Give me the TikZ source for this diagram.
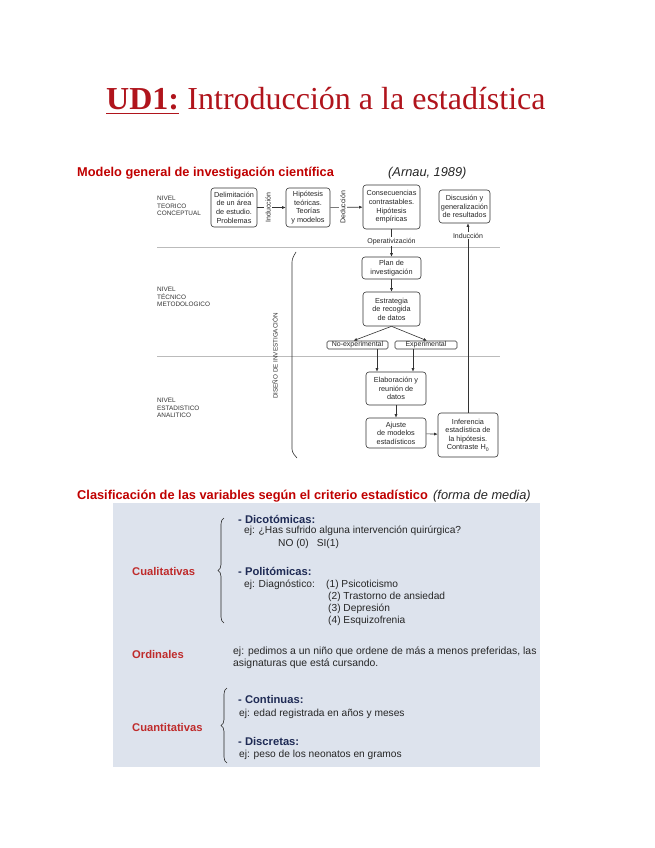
\documentclass[tikz,border=0pt]{standalone}
\usepackage{fontspec}
\setmainfont{Liberation Sans}
\newfontfamily\titleserif{Liberation Serif}
\usetikzlibrary{arrows.meta,decorations.pathreplacing,calc}
\definecolor{titlered}{HTML}{B0141C}
\definecolor{headred}{HTML}{C00000}
\definecolor{catred}{HTML}{BF2B2B}
\definecolor{navy}{HTML}{1F2B55}
\definecolor{boxbg}{HTML}{DDE3ED}
\definecolor{flowline}{HTML}{333333}
\definecolor{levelline}{HTML}{BBBBBB}
\begin{document}
\begin{tikzpicture}[x=1pt,y=1pt,
 fbox/.style={draw=flowline, line width=0.6pt, rounded corners=3pt, align=center, inner sep=0pt, font=\fontsize{7.3}{8.6}\selectfont, text=black!85},
 smallbox/.style={draw=flowline, line width=0.6pt, rounded corners=1.5pt, inner sep=0pt, minimum height=8pt, font=\fontsize{7}{7}\selectfont, text=black!85},
 arr/.style={-{Latex[length=3.5pt,width=3pt]}, line width=0.6pt, draw=flowline},
 plainline/.style={line width=0.6pt, draw=flowline},
 vlab/.style={rotate=90, fill=white, inner sep=1pt, font=\fontsize{7}{7}\selectfont, text=black!85},
 lab/.style={fill=white, inner sep=1pt, font=\fontsize{7}{7}\selectfont, text=black!85},
 level/.style={align=left, anchor=north west, inner sep=0pt, font=\fontsize{6.4}{7.4}\selectfont, text=black!80},
 body/.style={anchor=base west, inner sep=0pt, font=\fontsize{10.2}{12}\selectfont, text=black!85},
 sub/.style={anchor=base west, inner sep=0pt, font=\fontsize{11.2}{13}\selectfont\bfseries, text=navy},
 cat/.style={anchor=base west, inner sep=0pt, font=\fontsize{11.2}{13}\selectfont\bfseries, text=catred},
 head/.style={anchor=base west, inner sep=0pt, font=\fontsize{12.8}{15}\selectfont\bfseries, text=headred},
 headit/.style={anchor=base west, inner sep=0pt, font=\fontsize{12.8}{15}\selectfont\itshape, text=black!85},
]
\path[use as bounding box, fill=white] (0,0) rectangle (655,-848);

% title
\node[anchor=base west, inner sep=0pt, font=\titleserif\fontsize{32}{36}\selectfont\bfseries, text=titlered] (ud) at (106,-110) {UD1:};
\draw[titlered, line width=1.8pt] ([yshift=-3.5pt]ud.base west) -- ([yshift=-3.5pt]ud.base east);
\node[anchor=base west, inner sep=0pt, font=\titleserif\fontsize{32}{36}\selectfont, text=titlered] (tt) at ([xshift=8pt]ud.base east) {Introducción a la estadística};

% section 1 heading
\node[head] (h1) at (77,-176) {Modelo general de investigación científica};
\node[headit] (h1b) at (388,-176) {(Arnau, 1989)};

% level separators
\draw[levelline, line width=0.7pt] (157,-247) -- (500,-247);
\draw[levelline, line width=0.7pt] (157,-356) -- (500,-356);

% level labels
\node[level] (l1) at (157,-196) {NIVEL\\TEORICO\\CONCEPTUAL};
\node[level] (l2) at (157,-287) {NIVEL\\TÉCNICO\\METODOLOGICO};
\node[level] (l3) at (157,-398) {NIVEL\\ESTADISTICO\\ANALITICO};

% top row boxes
\node[fbox, minimum width=46pt, minimum height=39pt] (b1) at (234,-207.5) {Delimitación\\de un área\\de estudio.\\Problemas};
\node[fbox, minimum width=44pt, minimum height=39pt] (b2) at (308,-207.5) {Hipótesis\\teóricas.\\Teorías\\y modelos};
\node[fbox, minimum width=57pt, minimum height=44pt] (b3) at (391.5,-207) {Consecuencias\\contrastables.\\Hipótesis\\empíricas};
\node[fbox, minimum width=51pt, minimum height=33pt] (b4) at (464.5,-206.5) {Discusión y\\generalización\\de resultados};

\draw[arr] (b1) -- node[vlab, pos=0.38] (ind1) {Inducción} (b2);
\draw[arr] (b2) -- node[vlab, pos=0.39] (ded) {Deducción} (b3);

% middle
\node[fbox, minimum width=59pt, minimum height=22pt] (plan) at (391.5,-268) {Plan de\\investigación};
\node[fbox, minimum width=57pt, minimum height=34pt] (estr) at (391.5,-309) {Estrategia\\de recogida\\de datos};
\node[smallbox, minimum width=61pt] (noexp) at (357.5,-345) {No-experimental};
\node[smallbox, minimum width=62pt] (exp) at (426,-345) {Experimental};

\draw[arr] (b3) -- node[lab, pos=0.45] (oper) {Operativización} (plan);
\draw[arr] (plan) -- (estr);
\draw[arr] (estr.south) -- ([xshift=-4pt]noexp.north);
\draw[arr] (estr.south) -- ([xshift=1pt]exp.north);

% bottom
\node[fbox, minimum width=60pt, minimum height=33pt] (elab) at (396,-388.5) {Elaboración y\\reunión de\\datos};
\node[fbox, minimum width=60pt, minimum height=30pt] (ajus) at (396,-433) {Ajuste\\de modelos\\estadísticos};
\node[fbox, minimum width=60pt, minimum height=44pt] (infe) at (468,-435) {Inferencia\\estadística de\\la hipótesis.\\Contraste H\textsubscript{0}};

\coordinate (ne) at (377,-349);
\coordinate (ex) at (413,-349);
\draw[arr] (ne) -- (ne |- elab.north);
\draw[arr] (ex) -- (ex |- elab.north);
\draw[arr] (elab) -- (ajus);
\draw[arr] (ajus) -- (infe);
\draw[arr] (infe.north) -- node[lab, pos=0.935] (ind2) {Inducción} (infe.north |- b4.south);

% diseno bracket
\coordinate (dtop) at (296,-252);
\coordinate (dbot) at (297,-458);
\draw[plainline, rounded corners=3pt] (dtop) -- (292,-259) -- (292,-452) -- (dbot);
\node[rotate=90, inner sep=0pt, font=\fontsize{6.3}{7}\selectfont, text=black!80] (dis) at (275,-356) {DISEÑO DE INVESTIGACIÓN};

% section 2 heading
\node[head] (h2) at (77,-499) {Clasificación de las variables según el criterio estadístico};
\node[headit] (h2b) at (433,-499) {(forma de media)};

% classification box
\node[fill=boxbg, inner sep=0pt, minimum width=427pt, minimum height=264pt, anchor=north west] (cbox) at (113,-503) {};

\node[cat] (cual) at (132,-575.5) {Cualitativas};
\draw[decorate, decoration={brace, amplitude=6pt}, line width=0.6pt, black!85] (224,-623) -- (224,-518);
\node[sub] (dic) at (238,-523.5) {- Dicotómicas:};
\node[body] (dic1) at (244,-533.5) {ej: ¿Has sufrido alguna intervención quirúrgica?};
\node[body] (dic2) at (278,-546) {NO (0)\hspace{8pt}SI(1)};
\node[sub] (pol) at (238,-575.5) {- Politómicas:};
\node[body] (pol1) at (244,-587.5) {ej: Diagnóstico:};
\node[body] (p1) at (326,-587.5) {(1) Psicoticismo};
\node[body] (p2) at (328,-599.5) {(2) Trastorno de ansiedad};
\node[body] (p3) at (328,-611.5) {(3) Depresión};
\node[body] (p4) at (328,-623.5) {(4) Esquizofrenia};

\node[cat] (ord) at (132,-658.5) {Ordinales};
\node[body, font=\fontsize{10.4}{12}\selectfont] (o1) at (233,-654.5) {ej: pedimos a un niño que ordene de más a menos preferidas, las};
\node[body, font=\fontsize{10.4}{12}\selectfont] (o2) at (233,-666) {asignaturas que está cursando.};

\node[cat] (cuan) at (132,-731.5) {Cuantitativas};
\draw[decorate, decoration={brace, amplitude=6pt}, line width=0.6pt, black!85] (227,-763) -- (227,-688);
\node[sub] (con) at (238,-703.5) {- Continuas:};
\node[body] (con1) at (239,-716.5) {ej: edad registrada en años y meses};
\node[sub] (dis2) at (238,-745.5) {- Discretas:};
\node[body] (dis3) at (239,-757.5) {ej: peso de los neonatos en gramos};
\end{tikzpicture}
\end{document}
